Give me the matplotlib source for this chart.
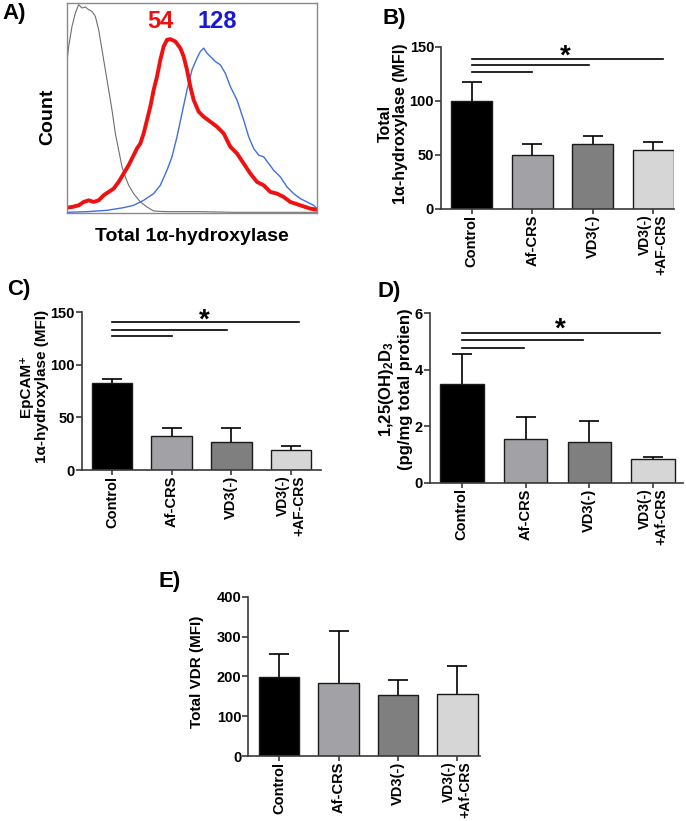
import matplotlib
matplotlib.use("Agg")
import matplotlib.pyplot as plt
import numpy as np

plt.rcParams['font.family'] = ['Liberation Sans', 'DejaVu Sans']
plt.rcParams['font.weight'] = 'bold'
plt.rcParams['mathtext.fontset'] = 'custom'
plt.rcParams['mathtext.rm'] = 'Liberation Sans:bold'
plt.rcParams['mathtext.bf'] = 'Liberation Sans:bold'
plt.rcParams['mathtext.it'] = 'Liberation Sans:bold'

W, H = 686, 821

# ---------------- Panel A data (histogram traces) ----------------
gray_x = [0, 5, 15, 25, 35, 45, 55, 65, 75, 85, 95, 105, 115, 125, 135, 145, 155, 165, 175,
          185, 200, 220, 240, 260, 300, 400, 500, 750]
gray_y = [453, 498, 558, 598, 623, 613, 616, 608, 603, 588, 548, 488, 428, 368, 308, 238, 188,
          138, 108, 83, 58, 33, 18, 6, 4, 4, 2, 2]
red_x = [0, 15, 35, 50, 65, 80, 95, 110, 125, 140, 155, 170, 185, 200, 210, 220, 230, 240, 250,
         260, 270, 280, 290, 300, 310, 325, 340, 350, 360, 370, 380, 395, 410, 430, 450, 470,
         490, 510, 530, 550, 570, 590, 610, 630, 650, 670, 700, 730, 750]
red_y = [16, 18, 23, 33, 38, 33, 38, 53, 63, 73, 93, 118, 143, 173, 193, 208, 238, 278, 318,
         368, 408, 458, 498, 518, 520, 513, 493, 468, 428, 378, 338, 303, 288, 273, 258, 238,
         198, 178, 148, 118, 93, 83, 63, 58, 48, 33, 23, 13, 10]
blue_x = [0, 60, 120, 170, 200, 230, 260, 280, 300, 315, 330, 345, 360, 375, 390, 400, 410, 420,
          430, 445, 460, 475, 490, 510, 530, 545, 560, 575, 590, 605, 620, 640, 660, 680, 700,
          720, 740, 750]
blue_y = [2, 4, 8, 16, 23, 38, 58, 83, 128, 168, 228, 298, 368, 428, 463, 483, 493, 478, 468,
          453, 443, 418, 378, 338, 278, 228, 193, 173, 168, 148, 128, 108, 78, 58, 43, 33, 23, 13]
mfi_red = "54"
mfi_blue = "128"

# ---------------- Bar panels data ----------------
cats_BC = ["Control", "Af-CRS", "VD3(-)", "VD3(-)\n+AF-CRS"]
cats_DE = ["Control", "Af-CRS", "VD3(-)", "VD3(-)\n+Af-CRS"]
bar_colors = ["#000000", "#a2a2a6", "#7f7f7f", "#d6d6d6"]

B_vals = [100, 50, 60, 54.5]
B_err = [17.5, 10, 7.5, 7.5]
B_sig_ends = [1.0, 1.93, 3.15]
B_sig_y = [127, 133, 139]

C_vals = [82.5, 32, 27, 19.3]
C_err = [3.8, 8.3, 13.3, 3.2]
C_sig_ends = [1.01, 1.92, 3.14]
C_sig_y = [127, 133.2, 140.5]

D_vals = [3.5, 1.54, 1.45, 0.84]
D_err = [1.07, 0.77, 0.75, 0.07]
D_sig_ends = [0.98, 1.9, 3.11]
D_sig_y = [4.78, 5.04, 5.31]

E_vals = [199, 184, 152, 155]
E_err = [56, 129, 39, 72]

fig = plt.figure(figsize=(W / 100, H / 100), dpi=100)


def px_axes(l, t, r, b):
    return fig.add_axes([l / W, 1 - b / H, (r - l) / W, (b - t) / H])


def ftext(x, y, s, **kw):
    fig.text(x / W, 1 - y / H, s, **kw)


# ---------------- Panel A ----------------
axA = px_axes(67, 3, 317, 213)
axA.plot(gray_x, gray_y, color="#6e6e6e", lw=0.8)
axA.plot(blue_x, blue_y, color="#3f6fe0", lw=1.0)
axA.plot(red_x, red_y, color="#f01010", lw=2.8)
axA.set_xlim(0, 750)
axA.set_ylim(0, 628)
axA.set_xticks([])
axA.set_yticks([])
for s in axA.spines.values():
    s.set_color("#8a8a8a")
    s.set_linewidth(1.0)
ftext(160.7, 21.7, mfi_red, color="#ee1111", fontsize=17, fontweight='bold', ha='center', va='center')
ftext(217.5, 21.7, mfi_blue, color="#1818d8", fontsize=17, fontweight='bold', ha='center', va='center')
ftext(48, 117, "Count", rotation=90, fontsize=14, fontweight='bold', ha='center', va='center')
ftext(192, 236, "Total 1\u03b1-hydroxylase", fontsize=14, fontweight='bold', ha='center', va='center')


def bar_panel(rect, vals, errs, cats, xlim, ylim, yticks, ylabel, ylab_px,
              sig_ends=None, sig_y=None, star_y=None, ylab_size=11.5, linesp=1.0):
    ax = px_axes(*rect)
    l, t, r, b = rect
    x = list(range(len(vals)))
    ax.bar(x, vals, width=0.68, color=bar_colors, edgecolor="#1a1a1a", linewidth=1.0, zorder=2)
    _, caps, _ = ax.errorbar(x, vals, yerr=[[0] * len(vals), errs], fmt='none', ecolor='black',
                             elinewidth=1.2, capsize=7, capthick=1.2, zorder=1)
    for cl in caps:
        if np.allclose(cl.get_ydata(), vals):
            cl.set_visible(False)
    ax.set_xlim(*xlim)
    ax.set_ylim(*ylim)
    ax.set_yticks(yticks)
    ax.set_xticks(x)
    ax.set_xticklabels(cats, rotation=90, fontsize=10.5, fontweight='bold',
                       ha='center', va='top', multialignment='right')
    ax.get_xticklabels()[-1].set_fontsize(10)
    for lab in ax.get_yticklabels():
        lab.set_fontweight('bold')
        lab.set_fontsize(10.5)
    for sname in ['top', 'right']:
        ax.spines[sname].set_visible(False)
    for sname in ['left', 'bottom']:
        ax.spines[sname].set_color('#3a3a3a')
        ax.spines[sname].set_linewidth(1.2)
    ax.tick_params(axis='y', length=4, width=1.2, color='#3a3a3a', pad=1.0)
    ax.tick_params(axis='x', length=3.5, width=1.2, color='#3a3a3a', pad=0.5)
    ax.set_ylabel(ylabel, fontsize=ylab_size, fontweight='bold', linespacing=linesp)
    ax.yaxis.label.set_va('center')
    ax.yaxis.set_label_coords((ylab_px[0] - l) / (r - l), (b - ylab_px[1]) / (b - t))
    if sig_ends is not None:
        for e, yy in zip(sig_ends, sig_y):
            ax.plot([0, e], [yy, yy], color='black', lw=1.2, clip_on=False)
        ax.text(1.55, star_y, "*", fontsize=20, fontweight='bold', ha='center', va='center')
    return ax


bar_panel((441, 46.7, 674, 209), B_vals, B_err, cats_BC, (-0.51, 3.34), (0, 150),
          [0, 50, 100, 150], "Total\n1\u03b1-hydroxylase (MFI)", (392.5, 123.5),
          B_sig_ends, B_sig_y, 141, ylab_size=11.5, linesp=1.0)
bar_panel((81.7, 312.3, 320.7, 470), C_vals, C_err, cats_BC, (-0.51, 3.5), (0, 150),
          [0, 50, 100, 150], "EpCAM\u207a\n1\u03b1-hydroxylase (MFI)", (34, 386),
          C_sig_ends, C_sig_y, 142.5, ylab_size=11, linesp=1.2)
bar_panel((430, 313.3, 683, 482.7), D_vals, D_err, cats_DE, (-0.5, 3.47), (0, 6),
          [0, 2, 4, 6], "1,25(OH)$_2$D$_3$\n(pg/mg total protien)", (395, 389),
          D_sig_ends, D_sig_y, 5.42, ylab_size=12, linesp=1.15)
bar_panel((248.3, 596.7, 480, 756), E_vals, E_err, cats_DE, (-0.52, 3.38), (0, 400),
          [0, 100, 200, 300, 400], "Total VDR (MFI)", (196.7, 672), ylab_size=11)

for lab, x, y in [("A)", 2, 14), ("B)", 383, 18.5), ("C)", 7, 290), ("D)", 378, 291), ("E)", 158, 582)]:
    ftext(x, y, lab, fontsize=16, fontweight='bold', ha='left', va='center')

fig.savefig("out.png", dpi=100)
